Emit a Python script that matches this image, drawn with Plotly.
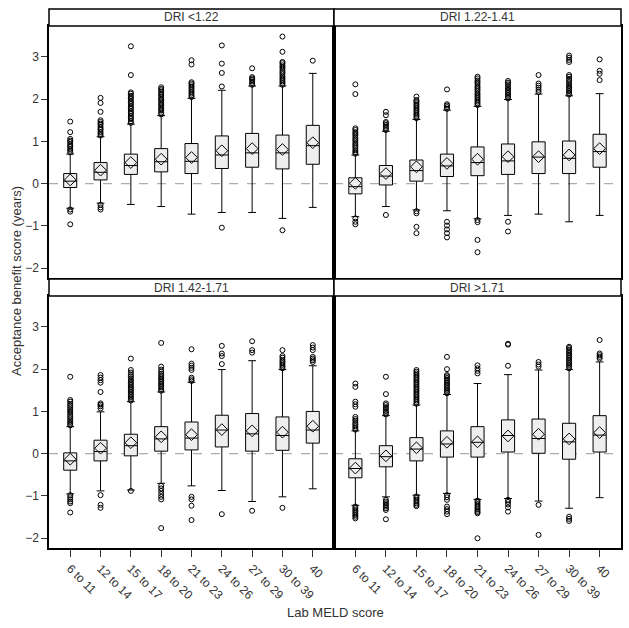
import plotly.graph_objects as go

categories = ["6 to 11", "12 to 14", "15 to 17", "18 to 20", "21 to 23",
              "24 to 26", "27 to 29", "30 to 39", "40"]
panel_titles = ["DRI <1.22", "DRI 1.22-1.41", "DRI 1.42-1.71", "DRI >1.71"]
y_ticks = [-2, -1, 0, 1, 2, 3]

# ---- Panel 1: DRI <1.22 ----
p1_q1 = [-0.09, 0.09, 0.22, 0.28, 0.24, 0.36, 0.39, 0.35, 0.46]
p1_med = [0.06, 0.27, 0.43, 0.52, 0.53, 0.68, 0.73, 0.73, 0.90]
p1_q3 = [0.24, 0.50, 0.70, 0.83, 0.95, 1.13, 1.19, 1.15, 1.38]
p1_lo = [-0.58, -0.46, -0.49, -0.54, -0.72, -0.68, -0.68, -0.82, -0.56]
p1_hi = [0.70, 1.11, 1.41, 1.61, 2.02, 2.21, 2.31, 2.31, 2.61]
p1_mean = [0.09, 0.32, 0.50, 0.58, 0.62, 0.78, 0.83, 0.81, 0.97]
p1_out = [
    [0.74, 0.78, 0.82, 0.87, 0.90, 0.94, 0.99, 1.02, 1.06, 1.22, 1.47, -0.61, -0.66, -0.96],
    [1.14, 1.18, 1.22, 1.27, 1.30, 1.34, 1.39, 1.42, 1.46, 1.50, 1.70, 1.91, 2.03, -0.50, -0.56, -0.61],
    [1.44, 1.48, 1.53, 1.56, 1.60, 1.65, 1.68, 1.72, 1.77, 1.80, 1.84, 1.89, 1.92, 1.96, 2.01, 2.04, 2.08, 2.13, 2.16, 2.57, 3.25],
    [1.64, 1.68, 1.73, 1.76, 1.80, 1.85, 1.88, 1.92, 1.97, 2.00, 2.04, 2.09, 2.12, 2.16, 2.21, 2.24, 2.28],
    [2.05, 2.09, 2.13, 2.17, 2.21, 2.25, 2.29, 2.33, 2.37, 2.40, 2.82, 2.92],
    [2.30, 2.62, 2.84, 3.27, -1.04],
    [2.34, 2.38, 2.42, 2.46, 2.49, 2.52, 2.73],
    [2.34, 2.38, 2.42, 2.46, 2.50, 2.54, 2.59, 2.63, 2.67, 2.72, 2.76, 2.80, 2.85, 2.88, 3.12, 3.48, -1.10],
    [2.91],
]

# ---- Panel 2: DRI 1.22-1.41 ----
p2_q1 = [-0.24, -0.03, 0.06, 0.17, 0.19, 0.22, 0.24, 0.24, 0.39]
p2_med = [-0.07, 0.18, 0.31, 0.42, 0.50, 0.54, 0.63, 0.60, 0.76]
p2_q3 = [0.14, 0.43, 0.56, 0.70, 0.87, 0.94, 0.99, 1.01, 1.17]
p2_lo = [-0.78, -0.54, -0.62, -0.64, -0.83, -0.75, -0.72, -0.90, -0.75]
p2_hi = [0.68, 1.24, 1.52, 1.74, 1.83, 1.99, 2.12, 2.08, 2.13]
p2_mean = [0.01, 0.24, 0.40, 0.48, 0.58, 0.64, 0.64, 0.68, 0.83]
p2_out = [
    [0.71, 0.75, 0.79, 0.84, 0.88, 0.92, 0.96, 1.01, 1.05, 1.09, 1.14, 1.18, 1.22, 1.27, 1.31, 2.12, 2.35, -0.82, -0.90, -0.96],
    [1.27, 1.31, 1.35, 1.39, 1.43, 1.46, 1.62, 1.70, -0.74],
    [1.55, 1.59, 1.63, 1.67, 1.71, 1.75, 1.79, 1.83, 1.87, 1.91, 1.95, 1.98, 2.06, -0.65, -0.70, -1.02, -1.17],
    [1.77, 1.81, 1.85, 1.88, 2.23, -0.90, -0.99, -1.08, -1.17, -1.27],
    [1.86, 1.90, 1.94, 1.98, 2.02, 2.06, 2.10, 2.14, 2.19, 2.23, 2.27, 2.31, 2.36, 2.40, 2.44, 2.49, 2.53, -0.86, -0.91, -1.33, -1.62],
    [2.02, 2.06, 2.10, 2.14, 2.18, 2.22, 2.26, 2.30, 2.35, 2.39, 2.43, -0.90, -1.13],
    [2.17, 2.22, 2.27, 2.32, 2.37, 2.57],
    [2.11, 2.15, 2.19, 2.23, 2.27, 2.31, 2.35, 2.40, 2.44, 2.48, 2.53, 2.57, 2.88, 2.93, 2.98, 3.03],
    [2.45, 2.60, 2.67, 2.94],
]

# ---- Panel 3: DRI 1.42-1.71 ----
p3_q1 = [-0.39, -0.17, -0.05, 0.06, 0.09, 0.16, 0.06, 0.08, 0.25]
p3_med = [-0.17, 0.05, 0.19, 0.35, 0.37, 0.56, 0.47, 0.43, 0.56]
p3_q3 = [0.02, 0.32, 0.46, 0.64, 0.75, 0.91, 0.95, 0.87, 1.00]
p3_lo = [-0.95, -0.88, -0.86, -0.70, -0.76, -0.87, -1.13, -1.02, -0.83]
p3_hi = [0.64, 0.99, 1.23, 1.46, 1.69, 1.99, 2.20, 1.99, 2.08]
p3_mean = [-0.13, 0.13, 0.26, 0.40, 0.45, 0.57, 0.54, 0.51, 0.65]
p3_out = [
    [0.67, 0.71, 0.75, 0.79, 0.84, 0.88, 0.92, 0.97, 1.01, 1.05, 1.10, 1.14, 1.18, 1.23, 1.27, 1.82, -0.98, -1.03, -1.08, -1.13, -1.17, -1.39],
    [1.07, 1.12, 1.16, 1.19, 1.46, 1.68, 1.74, 1.80, 1.86, -0.98, -1.21, -1.28],
    [1.26, 1.30, 1.34, 1.38, 1.42, 1.46, 1.50, 1.54, 1.58, 1.62, 1.66, 1.70, 1.74, 1.78, 1.83, 1.87, 1.92, 1.98, 2.25, -0.88],
    [1.49, 1.53, 1.57, 1.61, 1.65, 1.69, 1.73, 1.77, 1.81, 1.85, 1.89, 1.94, 1.99, 2.06, 2.62, -0.76, -0.82, -0.88, -0.95, -1.02, -1.08, -1.76],
    [1.72, 1.76, 1.80, 1.98, 2.03, 2.08, 2.13, 2.47, -1.02, -1.08, -1.23, -1.57],
    [2.12, 2.31, 2.37, 2.55, -1.43],
    [2.39, 2.45, 2.66, -1.35],
    [2.02, 2.06, 2.10, 2.14, 2.18, 2.22, 2.27, 2.31, 2.45, -1.28],
    [2.17, 2.21, 2.25, 2.29, 2.45, 2.51, 2.57],
]

# ---- Panel 4: DRI >1.71 ----
p4_q1 = [-0.57, -0.31, -0.17, -0.08, -0.08, 0.04, 0.01, -0.13, 0.04]
p4_med = [-0.35, -0.07, 0.11, 0.23, 0.27, 0.43, 0.36, 0.28, 0.44]
p4_q3 = [-0.12, 0.19, 0.38, 0.54, 0.64, 0.80, 0.82, 0.72, 0.90]
p4_lo = [-1.22, -1.02, -0.98, -0.94, -1.08, -1.06, -1.12, -1.29, -1.04]
p4_hi = [0.54, 0.90, 1.15, 1.40, 1.66, 1.87, 1.98, 1.99, 2.17]
p4_mean = [-0.34, -0.05, 0.14, 0.27, 0.28, 0.42, 0.46, 0.35, 0.50]
p4_out = [
    [0.57, 0.61, 0.65, 0.69, 0.73, 0.78, 0.82, 0.87, 1.11, 1.17, 1.23, 1.58, 1.66, -1.25, -1.29, -1.33, -1.37, -1.41, -1.45, -1.49, -1.53],
    [0.93, 0.97, 1.01, 1.06, 1.10, 1.15, 1.19, 1.41, 1.82, -1.09, -1.13, -1.17, -1.21, -1.25, -1.29, -1.33, -1.55],
    [1.18, 1.22, 1.26, 1.30, 1.34, 1.38, 1.42, 1.46, 1.50, 1.54, 1.58, 1.62, 1.66, 1.70, 1.74, 1.78, 1.82, 1.86, 1.90, 1.94, 1.98, -1.01, -1.05, -1.09, -1.13, -1.17, -1.21, -1.24],
    [1.43, 1.47, 1.51, 1.55, 1.59, 1.63, 1.67, 1.71, 1.75, 1.79, 1.83, 1.86, 2.00, 2.29, -0.98, -1.03, -1.09, -1.25, -1.31, -1.37, -1.43],
    [1.90, 1.96, 2.02, 2.09, -1.11, -1.15, -1.19, -1.23, -1.27, -1.31, -1.35, -1.38, -1.41, -2.00],
    [2.08, 2.58, 2.60, -1.09, -1.14, -1.20, -1.27, -1.37],
    [2.06, 2.11, 2.17, -1.21, -1.92],
    [2.02, 2.06, 2.10, 2.14, 2.18, 2.22, 2.26, 2.30, 2.34, 2.38, 2.42, 2.46, 2.50, 2.53, -1.49, -1.54, -1.59],
    [2.25, 2.29, 2.33, 2.37, 2.69],
]

panels = [
    (p1_q1, p1_med, p1_q3, p1_lo, p1_hi, p1_mean, p1_out),
    (p2_q1, p2_med, p2_q3, p2_lo, p2_hi, p2_mean, p2_out),
    (p3_q1, p3_med, p3_q3, p3_lo, p3_hi, p3_mean, p3_out),
    (p4_q1, p4_med, p4_q3, p4_lo, p4_hi, p4_mean, p4_out),
]

W, H = 629, 628
FONT = "Liberation Sans, Arial, sans-serif"
TXT = "#333333"

# panel geometry in pixels (left, right, top, bottom) of plot areas
xdoms_px = [(49, 334), (334, 621), (49, 334), (334, 621)]
ydoms_px = [(26, 278), (26, 278), (296, 548), (296, 548)]
strip_h = 17

fig = go.Figure()
shapes = []
annotations = []

for i, (q1, med, q3, lo, hi, mn, outs) in enumerate(panels):
    n = i + 1
    xa = "x" if n == 1 else f"x{n}"
    ya = "y" if n == 1 else f"y{n}"
    fig.add_trace(go.Box(
        x=categories, q1=q1, median=med, q3=q3, lowerfence=lo, upperfence=hi,
        xaxis=xa, yaxis=ya, width=0.43, whiskerwidth=0.6,
        fillcolor="#eeeeee", line=dict(color="black", width=1),
        boxpoints=False, showlegend=False, hoverinfo="skip",
    ))
    fig.add_trace(go.Scatter(
        x=categories, y=mn, mode="markers", xaxis=xa, yaxis=ya,
        marker=dict(symbol="diamond-open", size=9, color="black",
                    line=dict(width=1, color="black")),
        showlegend=False, hoverinfo="skip",
    ))
    ox, oy = [], []
    for c, vals in zip(categories, outs):
        ox.extend([c] * len(vals))
        oy.extend(vals)
    fig.add_trace(go.Scatter(
        x=ox, y=oy, mode="markers", xaxis=xa, yaxis=ya,
        marker=dict(symbol="circle-open", size=5, color="black",
                    line=dict(width=1, color="black")),
        showlegend=False, hoverinfo="skip",
    ))

    l, r = xdoms_px[i]
    t, b = ydoms_px[i]
    xd = [l / W, r / W]
    yd = [1 - b / H, 1 - t / H]
    bottom = n >= 3
    left = n in (1, 3)
    xkey = "xaxis" if n == 1 else f"xaxis{n}"
    ykey = "yaxis" if n == 1 else f"yaxis{n}"
    fig.update_layout(**{
        xkey: dict(
            domain=xd, anchor=ya, type="category",
            categoryorder="array", categoryarray=categories,
            range=[-0.7, 8.7], showgrid=False, zeroline=False,
            showline=True, mirror=True, linecolor="black", linewidth=1.5,
            ticks="outside" if bottom else "", ticklen=7, tickcolor="#333",
            showticklabels=bottom, tickangle=45,
            tickfont=dict(family=FONT, size=12, color=TXT),
        ),
        ykey: dict(
            domain=yd, anchor=xa, range=[-2.23, 3.73],
            tickvals=y_ticks, showgrid=False, zeroline=False,
            showline=True, mirror=True, linecolor="black", linewidth=1.5,
            ticks="outside" if left else "", ticklen=6, tickcolor="#333",
            showticklabels=left,
            tickfont=dict(family=FONT, size=12, color=TXT),
        ),
    })
    # dashed zero line
    shapes.append(dict(type="line", xref=f"{xa} domain", yref=ya,
                       x0=0, x1=1, y0=0, y1=0,
                       line=dict(color="#999999", width=1, dash="dash"),
                       layer="below"))
    # strip header
    st0 = t - strip_h
    shapes.append(dict(type="rect", xref="paper", yref="paper",
                       x0=l / W, x1=r / W, y0=1 - t / H, y1=1 - st0 / H,
                       line=dict(color="black", width=1.5), fillcolor="white"))
    annotations.append(dict(text=panel_titles[i], xref="paper", yref="paper",
                            x=(l + r) / 2 / W, y=1 - (st0 + strip_h / 2) / H,
                            showarrow=False, xanchor="center", yanchor="middle",
                            font=dict(family=FONT, size=12, color=TXT)))

annotations.append(dict(text="Lab MELD score", xref="paper", yref="paper",
                        x=335 / W, y=1 - 612 / H, showarrow=False,
                        xanchor="center", yanchor="middle",
                        font=dict(family=FONT, size=13, color=TXT)))
annotations.append(dict(text="Acceptance benefit score (years)", xref="paper", yref="paper",
                        x=16 / W, y=1 - 281 / H, showarrow=False, textangle=-90,
                        xanchor="center", yanchor="middle",
                        font=dict(family=FONT, size=13, color=TXT)))

fig.update_layout(
    width=W, height=H, margin=dict(l=0, r=0, t=0, b=0),
    paper_bgcolor="white", plot_bgcolor="white",
    shapes=shapes, annotations=annotations, showlegend=False,
    font=dict(family=FONT, color=TXT),
)

fig.write_html(
    "out.html",
    config={"displayModeBar": False},
    post_script="document.body.style.margin='0';document.body.style.padding='0';document.body.style.overflow='hidden';",
)
